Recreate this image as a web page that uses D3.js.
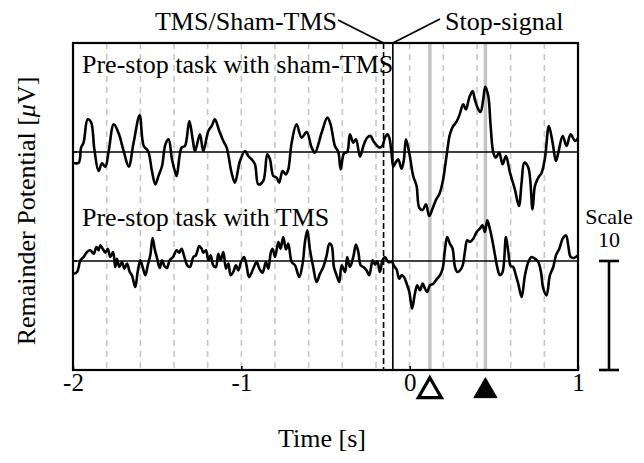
<!DOCTYPE html>
<html lang="en">
<head>
<meta charset="UTF-8">
<title>Remainder Potential</title>
<script src="https://d3js.org/d3.v7.min.js"></script>
<style>
  body { margin: 0; background: #fff; }
  svg text { font-family: "Liberation Serif", "Times New Roman", serif; fill: #000; }
</style>
</head>
<body>
<svg id="chart" width="644" height="463"></svg>
<script>
// time axis ticks and the 0.2 s grid
const xTicks = [-2, -1, 0, 1];
const gridTimes = [-1.8, -1.6, -1.4, -1.2, -1.0, -0.8, -0.6, -0.4, -0.2, 0, 0.2, 0.4, 0.6, 0.8];
const tmsTime = -0.155;
const stopTime = -0.1;
const markerTimes = [0.12, 0.45];   // open triangle, filled triangle
const markerFill = ["#fff", "#000"];
const baselines = [20, 10];         // sham trace offset, TMS trace offset (uV)
const traceNames = ["Pre-stop task with sham-TMS", "Pre-stop task with TMS"];
const scaleValue = 10;

// [time (s), potential (uV) relative to its baseline]
const shamTrace = [
  [-2.0,-1.0],[-1.966,-0.98],[-1.952,0.40],[-1.937,0.86],[-1.913,3.0],[-1.893,2.75],[-1.873,0.24],[-1.848,-1.74],
  [-1.828,-1.04],[-1.808,-1.35],[-1.788,0.09],[-1.758,2.54],[-1.729,1.71],[-1.699,0.09],[-1.669,-1.35],[-1.640,0.86],
  [-1.604,3.36],[-1.580,0.55],[-1.554,0.09],[-1.531,-1.74],[-1.511,-2.97],[-1.491,-2.14],[-1.471,-1.28],[-1.451,0.70],
  [-1.432,1.16],[-1.412,-0.67],[-1.392,-1.90],[-1.384,-2.20],[-1.355,0.40],[-1.335,0.55],[-1.309,2.84],[-1.289,1.16],
  [-1.275,0.09],[-1.246,1.62],[-1.226,0.09],[-1.196,1.93],[-1.176,2.39],[-1.157,3.0],[-1.131,1.93],[-1.107,1.01],
  [-1.087,0.40],[-1.058,-1.90],[-1.038,-2.81],[-1.008,-0.83],[-0.978,0.09],[-0.959,-0.37],[-0.939,-0.67],[-0.919,-1.13],
  [-0.899,-2.97],[-0.870,-2.66],[-0.846,-0.21],[-0.830,-0.67],[-0.810,-2.20],[-0.790,-2.35],[-0.775,-2.81],[-0.755,-1.74],
  [-0.735,-2.05],[-0.721,-1.59],[-0.701,0.86],[-0.672,2.54],[-0.642,1.31],[-0.612,1.83],[-0.582,0.40],[-0.563,-0.06],
  [-0.523,1.77],[-0.489,3.15],[-0.470,2.54],[-0.444,0.55],[-0.424,0],[-0.410,-1.59],[-0.390,-0.12],[-0.371,0],
  [-0.355,1.62],[-0.335,0.86],[-0.319,1.16],[-0.295,-0.43],[-0.275,0.55],[-0.252,1.31],[-0.232,1.47],[-0.216,1.01],
  [-0.196,0.61],[-0.177,0.40],[-0.161,0.61],[-0.147,1.31],[-0.133,1.62],[-0.121,1.31],[-0.107,-0.21],[-0.097,-1.35],
  [-0.082,-0.92],[-0.068,-0.67],[-0.048,-1.53],[-0.034,-0.67],[-0.022,1.16],[-0.002,-0.12],[0.021,-2.20],[0.041,-3.12],
  [0.057,-5.11],[0.077,-5.32],[0.097,-4.80],[0.116,-5.87],[0.140,-5.02],[0.160,-4.28],[0.176,-3.88],[0.196,-2.75],
  [0.219,-0.37],[0.239,1.62],[0.259,2.39],[0.275,2.69],[0.295,3.36],[0.318,4.37],[0.334,3.91],[0.354,4.98],
  [0.374,5.60],[0.388,4.77],[0.408,3.91],[0.421,3.67],[0.437,4.83],[0.449,5.99],[0.467,5.14],[0.481,2.39],
  [0.497,-0.06],[0.512,-0.52],[0.532,-0.06],[0.552,-1.13],[0.572,-0.37],[0.596,-1.90],[0.625,-3.43],[0.649,-4.95],
  [0.665,-2.81],[0.681,-0.98],[0.705,-1.44],[0.730,-5.26],[0.744,-3.12],[0.764,-2.35],[0.784,-1.90],[0.804,-0.52],
  [0.827,2.39],[0.849,0.86],[0.869,-0.83],[0.883,-0.06],[0.909,1.47],[0.932,0.55],[0.956,1.62],[0.982,1.01],[1.0,1.3]
];
const tmsTrace = [
  [-2.0,-1.2],[-1.976,-1.01],[-1.956,0.06],[-1.937,0.37],[-1.917,0.83],[-1.897,0.98],[-1.877,0.67],[-1.861,1.28],
  [-1.848,0.98],[-1.838,1.44],[-1.822,1.07],[-1.808,0.76],[-1.794,1.13],[-1.778,0.37],[-1.762,0.83],[-1.749,-0.55],
  [-1.739,0.21],[-1.725,-0.55],[-1.709,-0.09],[-1.695,-0.70],[-1.679,-0.24],[-1.663,-1.01],[-1.650,-1.31],[-1.630,-2.39],
  [-1.616,-1.01],[-1.600,0.06],[-1.584,-0.70],[-1.570,-1.31],[-1.556,-0.40],[-1.541,0.52],[-1.527,2.11],[-1.515,1.13],
  [-1.501,0.28],[-1.485,-0.64],[-1.471,0.06],[-1.457,-0.46],[-1.442,-0.64],[-1.426,0.06],[-1.406,0.37],[-1.384,0.98],
  [-1.369,0.76],[-1.355,1.13],[-1.341,0.52],[-1.321,-0.40],[-1.305,-0.55],[-1.285,0.37],[-1.270,0.52],[-1.250,1.38],
  [-1.236,1.13],[-1.226,0.76],[-1.210,0.98],[-1.196,0.06],[-1.182,0.52],[-1.167,-0.40],[-1.151,-0.55],[-1.137,0.67],
  [-1.123,0.06],[-1.107,0.83],[-1.091,-0.70],[-1.077,-0.24],[-1.064,-1.31],[-1.048,-1.01],[-1.032,-0.40],[-1.018,-0.86],
  [-1.002,-0.09],[-0.984,0.37],[-0.969,-0.40],[-0.955,-1.47],[-0.939,-1.07],[-0.925,-0.55],[-0.909,-0.09],[-0.893,-0.70],
  [-0.874,-1.07],[-0.854,-0.09],[-0.840,-0.70],[-0.824,0.83],[-0.814,1.13],[-0.800,0.37],[-0.780,1.74],[-0.767,1.13],
  [-0.751,2.20],[-0.735,1.07],[-0.721,1.59],[-0.701,-0.09],[-0.681,-0.40],[-0.656,-1.47],[-0.636,-0.24],[-0.622,1.74],
  [-0.608,2.81],[-0.592,0.98],[-0.573,-0.55],[-0.553,-1.93],[-0.533,-1.16],[-0.513,-0.55],[-0.493,0.52],[-0.477,1.59],
  [-0.464,1.44],[-0.450,-0.55],[-0.434,-1.31],[-0.418,-1.93],[-0.404,-0.40],[-0.384,-1.01],[-0.371,0.37],[-0.355,-0.55],
  [-0.335,0.37],[-0.319,1.50],[-0.305,0.83],[-0.291,-0.40],[-0.275,-0.55],[-0.256,-0.86],[-0.240,-1.31],[-0.220,0.06],
  [-0.206,-0.34],[-0.192,-0.03],[-0.177,-1.01],[-0.161,0.06],[-0.147,0.37],[-0.127,-0.09],[-0.105,-0.09],[-0.093,-0.46],
  [-0.078,-0.76],[-0.062,-1.62],[-0.048,-1.31],[-0.034,-1.47],[-0.018,-2.08],[-0.002,-2.84],[0.014,-4.37],[0.031,-3.00],
  [0.045,-2.23],[0.061,-2.69],[0.077,-2.08],[0.091,-2.54],[0.105,-2.84],[0.120,-2.23],[0.140,-2.08],[0.160,-1.68],
  [0.180,-1.31],[0.196,-0.70],[0.210,1.13],[0.223,2.20],[0.239,1.59],[0.255,1.13],[0.269,-0.55],[0.283,-1.01],
  [0.299,-0.86],[0.315,-0.40],[0.328,0.83],[0.342,1.90],[0.358,1.74],[0.378,2.05],[0.398,2.66],[0.417,2.97],
  [0.433,3.27],[0.447,2.66],[0.461,3.73],[0.477,2.91],[0.493,1.74],[0.507,0.52],[0.520,-0.55],[0.536,-1.31],
  [0.552,-1.01],[0.572,2.20],[0.586,0.83],[0.600,-0.46],[0.615,-0.55],[0.631,-1.31],[0.645,-2.08],[0.665,-3.30],
  [0.685,-1.31],[0.705,-0.09],[0.724,0.37],[0.744,0.21],[0.764,-0.09],[0.780,-1.01],[0.794,-2.54],[0.813,-3.15],
  [0.833,-1.31],[0.853,-0.55],[0.869,0.52],[0.889,1.13],[0.909,2.05],[0.929,2.35],[0.942,1.44],[0.956,0.37],
  [0.976,0.28],[1.0,0.52]
];
const traces = [shamTrace, tmsTrace];

const svg = d3.select("#chart");
const x = d3.scaleLinear().domain([-2, 1]).range([73, 578]);
const y = d3.scaleLinear().domain([0, 30]).range([370, 43]);
const yTop = y(30), yBot = y(0);

// grey dashed grid every 0.2 s
svg.append("g").selectAll("line").data(gridTimes).join("line")
  .attr("x1", d => x(d)).attr("x2", d => x(d))
  .attr("y1", yTop).attr("y2", yBot)
  .attr("stroke", "#c8c8c8").attr("stroke-width", 1.6)
  .attr("stroke-dasharray", "6,5");

// grey markers of the two latencies
svg.append("g").selectAll("line").data(markerTimes).join("line")
  .attr("x1", d => x(d)).attr("x2", d => x(d))
  .attr("y1", yTop).attr("y2", yBot)
  .attr("stroke", "#c4c4c4").attr("stroke-width", 3.5);

// baselines
svg.append("g").selectAll("line").data(baselines).join("line")
  .attr("x1", x(-2)).attr("x2", x(1))
  .attr("y1", d => y(d)).attr("y2", d => y(d))
  .attr("stroke", "#000").attr("stroke-width", 1.6);

// traces
const line = d3.line().x(d => x(d[0])).curve(d3.curveCatmullRom.alpha(0.5));
traces.forEach((tr, i) => {
  svg.append("path")
    .datum(tr)
    .attr("d", line.y(d => y(baselines[i] + d[1])))
    .attr("fill", "none").attr("stroke", "#000")
    .attr("stroke-width", 2.6).attr("stroke-linejoin", "round");
});

// TMS (dashed) and stop-signal (solid) onsets
svg.append("line")
  .attr("x1", x(tmsTime)).attr("x2", x(tmsTime)).attr("y1", yTop).attr("y2", yBot)
  .attr("stroke", "#000").attr("stroke-width", 1.6).attr("stroke-dasharray", "6,3");
svg.append("line")
  .attr("x1", x(stopTime)).attr("x2", x(stopTime)).attr("y1", yTop).attr("y2", yBot)
  .attr("stroke", "#000").attr("stroke-width", 1.6);

// frame
svg.append("rect")
  .attr("x", x(-2)).attr("y", yTop)
  .attr("width", x(1) - x(-2)).attr("height", yBot - yTop)
  .attr("fill", "none").attr("stroke", "#000").attr("stroke-width", 2.2);

// small inner ticks on the left edge at the baselines
svg.append("g").selectAll("line").data(baselines).join("line")
  .attr("x1", x(-2)).attr("x2", x(-2) + 4)
  .attr("y1", d => y(d)).attr("y2", d => y(d))
  .attr("stroke", "#000").attr("stroke-width", 1.5);

// x axis
const xAxis = svg.append("g")
  .attr("transform", `translate(0,${yBot})`)
  .call(d3.axisBottom(x).tickValues(xTicks).tickFormat(d3.format("d")).tickSize(-4).tickPadding(3));
xAxis.select(".domain").remove();
xAxis.selectAll("line").attr("stroke-width", 1.5);
xAxis.selectAll("text")
  .attr("font-family", "Liberation Serif").attr("font-size", 25)
  .text(d => d < 0 ? "-" + Math.abs(d) : d);

// trace labels
svg.append("g").selectAll("text").data(traceNames).join("text")
  .attr("x", 82).attr("y", (d, i) => [73, 226][i])
  .attr("font-size", 26)
  .text(d => d);

// open / filled triangles under the axis
svg.append("g").selectAll("path").data(markerTimes).join("path")
  .attr("transform", d => `translate(${x(d)},391)`)
  .attr("d", d3.symbol(d3.symbolTriangle).size(230))
  .attr("fill", (d, i) => markerFill[i])
  .attr("stroke", "#000").attr("stroke-width", (d, i) => i === 0 ? 3.2 : 1)
  .attr("stroke-linejoin", "miter");

// event labels with leader lines
svg.append("text").attr("x", 246).attr("y", 30).attr("text-anchor", "middle")
  .attr("font-size", 26).text("TMS/Sham-TMS");
svg.append("line").attr("x1", 338).attr("y1", 20).attr("x2", x(tmsTime)).attr("y2", yTop)
  .attr("stroke", "#000").attr("stroke-width", 1.8);
svg.append("text").attr("x", 445).attr("y", 30)
  .attr("font-size", 26).text("Stop-signal");
svg.append("line").attr("x1", 440).attr("y1", 19).attr("x2", x(stopTime)).attr("y2", yTop)
  .attr("stroke", "#000").attr("stroke-width", 1.8);

// scale bar
const sx = 609;
const sb = svg.append("g").attr("stroke", "#000").attr("stroke-width", 2.6);
sb.append("line").attr("x1", sx).attr("x2", sx).attr("y1", y(scaleValue)).attr("y2", y(0));
[scaleValue, 0].forEach(v => sb.append("line")
  .attr("x1", sx - 10).attr("x2", sx + 10).attr("y1", y(v)).attr("y2", y(v)));
svg.append("text").attr("x", sx).attr("y", 224).attr("text-anchor", "middle")
  .attr("font-size", 22).text("Scale");
svg.append("text").attr("x", sx).attr("y", 247).attr("text-anchor", "middle")
  .attr("font-size", 22).text(scaleValue);

// axis titles
svg.append("text").attr("x", 322).attr("y", 447).attr("text-anchor", "middle")
  .attr("font-size", 26).text("Time [s]");
const yTitle = svg.append("text")
  .attr("transform", "translate(35,211) rotate(-90)")
  .attr("text-anchor", "middle").attr("font-size", 26);
yTitle.append("tspan").text("Remainder Potential [");
yTitle.append("tspan").attr("font-style", "italic").text("\u03BC");
yTitle.append("tspan").text("V]");
</script>
</body>
</html>
